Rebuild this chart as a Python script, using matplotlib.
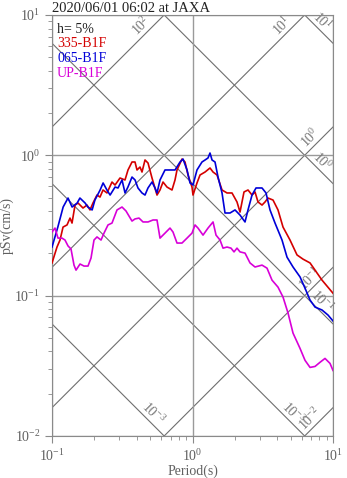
import numpy as np
import matplotlib
matplotlib.use('Agg')
import matplotlib.pyplot as plt

plt.rcParams['font.family'] = 'Liberation Serif'
plt.rcParams['mathtext.fontset'] = 'custom'
plt.rcParams['mathtext.rm'] = 'Liberation Serif'
plt.rcParams['mathtext.it'] = 'Liberation Serif:italic'

# pseudo velocity response spectra, h = 5%
T_ns = [0.100, 0.1085, 0.114, 0.1198, 0.1279, 0.1343, 0.1388, 0.1458, 0.1532, 0.1662,
        0.1774, 0.1864, 0.1957, 0.2090, 0.2196, 0.2307, 0.2462, 0.2673, 0.2808, 0.3048,
        0.3307, 0.3474, 0.3710, 0.3896, 0.4027, 0.4229, 0.4370, 0.4591, 0.4823, 0.5149,
        0.5588, 0.5870, 0.6166, 0.6583, 0.7145, 0.7505, 0.7755, 0.8417, 0.8842, 0.9290,
        0.9918, 1.008, 1.076, 1.131, 1.228, 1.332, 1.400, 1.494, 1.622, 1.760,
        1.910, 2.073, 2.178, 2.325, 2.483, 2.652, 2.785, 2.925, 3.124, 3.281,
        3.446, 3.741, 4.059, 4.407, 4.943, 5.543, 6.117, 6.862, 7.447, 8.350, 10.0]
sv_ns = [0.171, 0.222, 0.249, 0.308, 0.319, 0.357, 0.329, 0.442, 0.457, 0.421,
         0.442, 0.408, 0.457, 0.521, 0.504, 0.566, 0.539, 0.645, 0.614, 0.689,
         0.667, 0.786, 0.896, 0.896, 0.786, 0.825, 0.760, 0.926, 0.881, 0.689,
         0.521, 0.566, 0.645, 0.594, 0.566, 0.667, 0.786, 0.941, 0.896, 0.724,
         0.594, 0.521, 0.635, 0.724, 0.760, 0.812, 0.760, 0.724, 0.566, 0.539,
         0.539, 0.465, 0.394, 0.548, 0.566, 0.521, 0.548, 0.465, 0.442, 0.465,
         0.496, 0.480, 0.408, 0.308, 0.249, 0.195, 0.182, 0.171, 0.152, 0.129, 0.104]

T_ew = [0.100, 0.110, 0.120, 0.130, 0.139, 0.151, 0.158, 0.172, 0.180, 0.193,
        0.202, 0.220, 0.231, 0.246, 0.259, 0.281, 0.295, 0.315, 0.331, 0.347,
        0.371, 0.390, 0.409, 0.437, 0.459, 0.482, 0.515, 0.541, 0.559, 0.587,
        0.637, 0.692, 0.751, 0.815, 0.856, 0.914, 0.960, 1.008, 1.076, 1.168,
        1.228, 1.289, 1.332, 1.377, 1.446, 1.519, 1.622, 1.703, 1.849, 2.007,
        2.178, 2.364, 2.483, 2.652, 2.831, 3.124, 3.335, 3.561, 3.866, 4.335,
        4.706, 5.192, 5.823, 6.320, 6.862, 7.447, 8.350, 9.214, 10.0]
sv_ew = [0.222, 0.308, 0.428, 0.496, 0.428, 0.457, 0.496, 0.457, 0.428, 0.408,
         0.480, 0.566, 0.635, 0.566, 0.521, 0.594, 0.585, 0.667, 0.539, 0.594,
         0.700, 0.667, 0.585, 0.539, 0.521, 0.585, 0.645, 0.585, 0.539, 0.667,
         0.786, 0.786, 0.786, 0.896, 0.941, 0.786, 0.635, 0.614, 0.786, 0.896,
         0.926, 0.957, 1.038, 0.926, 0.896, 0.700, 0.539, 0.388, 0.388, 0.408,
         0.375, 0.335, 0.408, 0.521, 0.585, 0.585, 0.539, 0.408, 0.329, 0.249,
         0.188, 0.160, 0.136, 0.113, 0.093, 0.0829, 0.0790, 0.0727, 0.066]

T_ud = [0.100, 0.105, 0.1103, 0.1178, 0.1237, 0.130, 0.1365, 0.1434, 0.1482, 0.1583,
        0.1689, 0.1804, 0.1895, 0.1990, 0.2090, 0.2233, 0.2345, 0.2503, 0.2673, 0.2901,
        0.3149, 0.3362, 0.3532, 0.3710, 0.3896, 0.4160, 0.4443, 0.4823, 0.5234, 0.5588,
        0.5870, 0.6371, 0.6915, 0.7263, 0.7755, 0.8417, 0.9138, 0.9918, 1.042, 1.094,
        1.188, 1.289, 1.400, 1.470, 1.570, 1.649, 1.760, 1.879, 1.974, 2.073,
        2.178, 2.364, 2.566, 2.785, 3.124, 3.390, 3.679, 4.059, 4.407, 4.783,
        5.192, 5.823, 6.320, 6.862, 7.447, 8.081, 8.770, 9.520, 10.0]
sv_ud = [0.284, 0.303, 0.257, 0.257, 0.249, 0.226, 0.215, 0.165, 0.152, 0.168,
         0.1625, 0.1625, 0.1853, 0.249, 0.262, 0.249, 0.279, 0.319, 0.329, 0.408,
         0.428, 0.401, 0.369, 0.340, 0.352, 0.357, 0.335, 0.335, 0.346, 0.346,
         0.257, 0.279, 0.303, 0.284, 0.237, 0.237, 0.257, 0.279, 0.319, 0.303,
         0.270, 0.303, 0.335, 0.270, 0.249, 0.218, 0.222, 0.218, 0.205, 0.218,
         0.205, 0.201, 0.171, 0.160, 0.165, 0.157, 0.129, 0.115, 0.0977, 0.0752,
         0.0541, 0.0421, 0.0346, 0.0308, 0.0313, 0.0335, 0.0357, 0.0329, 0.0293]

names = ['335-B1F', '065-B1F', 'UP-B1F']
colors = ['#d40000', '#0000d8', '#d800d8']

# tripartite guide lines: acceleration (cm/s2) and displacement (cm)
acc_levels = [1e2, 1e1, 1e0, 1e-1, 1e-2]
acc_labels = ['2', '1', '0', '-1', '-2']
disp_levels = [1e1, 1e0, 1e-1, 1e-2, 1e-3]
disp_labels = ['1', '0', '-1', '-3', '-3']

fig = plt.figure(figsize=(3.47, 4.78), dpi=100)
ax = fig.add_axes([0.1499, 0.0879, 0.8098, 0.8808])
ax.set_xscale('log')
ax.set_yscale('log')
ax.set_xlim(0.1, 10)
ax.set_ylim(0.01, 10)

gcol = '#6e6e6e'
lcol = '#777777'
tt = np.logspace(-2, 2, 100)
back = 10 ** -0.12
for sa, lab in zip(acc_levels, acc_labels):
    ax.plot(tt, sa * tt / (2 * np.pi), color=gcol, lw=0.8, zorder=1)
    t_exit = min(2 * np.pi * 10 / sa, 10)
    tx = t_exit * back
    ax.text(tx, sa * tx / (2 * np.pi), r'$10^{%s}$' % lab, rotation=45,
            rotation_mode='anchor', ha='center', va='bottom',
            color=lcol, fontsize=10, zorder=2)
for d, lab in zip(disp_levels, disp_labels):
    ax.plot(tt, 2 * np.pi * d / tt, color=gcol, lw=0.8, zorder=1)
    t_exit = min(2 * np.pi * d / 0.01, 10)
    tx = t_exit * back
    ax.text(tx, 2 * np.pi * d / tx, r'$10^{%s}$' % lab, rotation=-45,
            rotation_mode='anchor', ha='center', va='bottom',
            color=lcol, fontsize=10, zorder=2)

ax.grid(True, which='major', color='#9a9a9a', lw=1.0, zorder=1)

for T, sv, c in zip([T_ns, T_ew, T_ud], [sv_ns, sv_ew, sv_ud], colors):
    ax.plot(T, sv, color=c, lw=1.2, zorder=3)

ax.text(0.018, 0.966, 'h= 5%', transform=ax.transAxes, color='#222222',
        fontsize=10, va='center')
for i, (nm, c) in enumerate(zip(names, colors)):
    ax.text(0.018, 0.932 - i * 0.035, nm, transform=ax.transAxes, color=c,
            fontsize=10, va='center')

for s in ax.spines.values():
    s.set_color('#8a8a8a')
ax.tick_params(which='both', direction='out', colors='#8a8a8a',
               labelcolor='#606060', labelsize=10)
ax.tick_params(which='major', length=5)
ax.tick_params(which='minor', length=3)

ax.set_title('2020/06/01 06:02 at JAXA', loc='left', fontsize=10.5,
             color='#222222', pad=2)
ax.set_xlabel('Period(s)', color='#606060', fontsize=10)
ax.set_ylabel('pSv(cm/s)', color='#606060', fontsize=10)
ax.xaxis.set_label_coords(0.5, -0.068)
ax.yaxis.set_label_coords(-0.135, 0.5)

fig.savefig('out.png', dpi=100)
